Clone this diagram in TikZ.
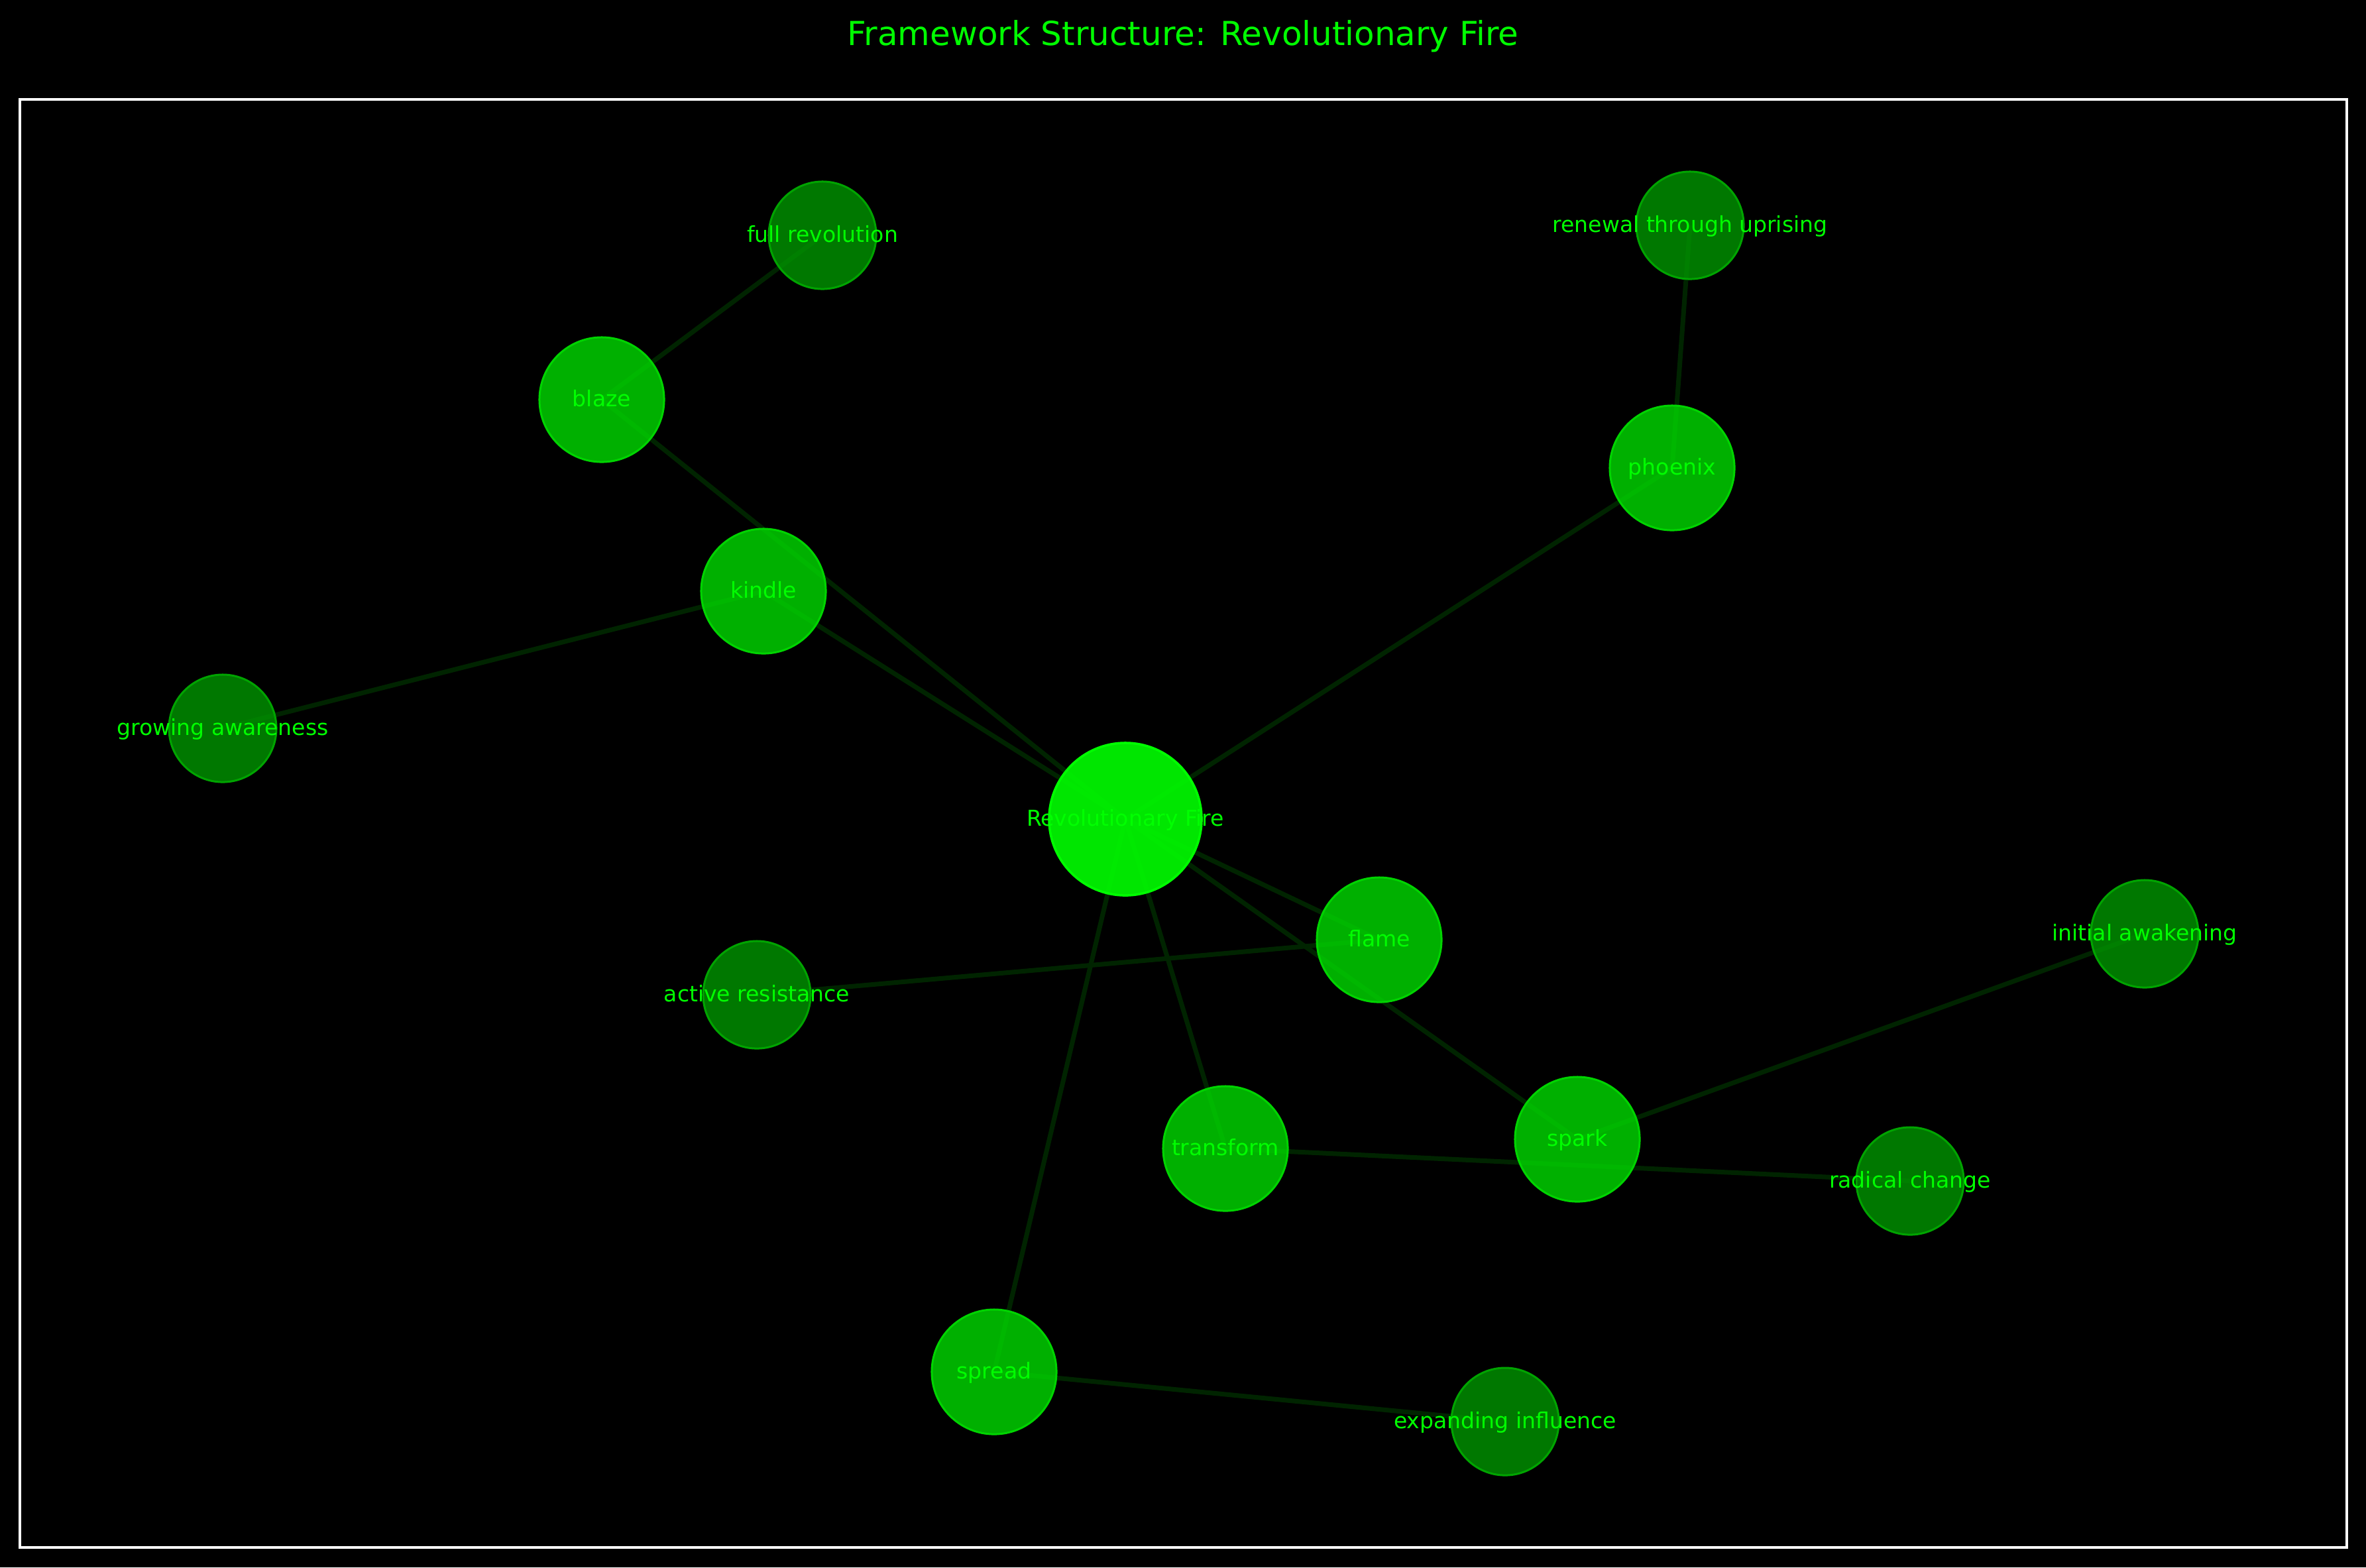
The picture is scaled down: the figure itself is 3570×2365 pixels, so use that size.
\documentclass[tikz,border=0pt]{standalone}
\usepackage{fontspec}
\setmainfont{DejaVu Sans}
\definecolor{bright}{HTML}{00FF00}
\definecolor{edgecol}{HTML}{002400}
\definecolor{midfill}{HTML}{00DC00}
\definecolor{midborder}{HTML}{00D400}
\definecolor{outfill}{HTML}{009600}
\definecolor{outborder}{HTML}{00A400}
\pgfdeclarelayer{bg}
\pgfdeclarelayer{edges}
\pgfsetlayers{bg,edges,main}
\tikzset{
  hub/.style={circle, minimum size=2.30cm, inner sep=0pt, fill=bright, fill opacity=0.9, draw=bright, line width=0.035cm},
  stage/.style={circle, minimum size=1.88cm, inner sep=0pt, fill=midfill, fill opacity=0.8, draw=midborder, line width=0.03cm},
  leaf/.style={circle, minimum size=1.62cm, inner sep=0pt, fill=outfill, fill opacity=0.8, draw=outborder, line width=0.03cm},
  lbl/.style={anchor=base, inner sep=0pt, text=bright, font=\fontsize{9.4pt}{11pt}\selectfont},
  link/.style={draw=edgecol, line width=0.07cm},
}
\begin{document}
\begin{tikzpicture}[x=0.01cm, y=-0.01cm]
\begin{pgfonlayer}{bg}
\fill[black] (0,0) rectangle (3570,2365);
\end{pgfonlayer}
\useasboundingbox (0,0) rectangle (3570,2365);
\draw[white, line width=0.04cm] (30,150) rectangle (3541,2335);
\node[anchor=base, inner sep=0pt, text=bright, font=\fontsize{14.2pt}{17pt}\selectfont] (title) at (1785,68) {Framework Structure: Revolutionary Fire};

% nodes
\node[hub] (rf) at (1698,1236) {};
\node[stage] (flame) at (2081,1418) {};
\node[stage] (blaze) at (908,603) {};
\node[stage] (kindle) at (1152,892) {};
\node[stage] (phoenix) at (2523,706) {};
\node[stage] (transform) at (1849,1733) {};
\node[stage] (spark) at (2380,1719) {};
\node[stage] (spread) at (1500,2070) {};
\node[leaf] (fullrev) at (1241,355) {};
\node[leaf] (renewal) at (2550,340) {};
\node[leaf] (growing) at (336,1099) {};
\node[leaf] (active) at (1142,1501) {};
\node[leaf] (initial) at (3236,1409) {};
\node[leaf] (radical) at (2882,1782) {};
\node[leaf] (expanding) at (2271,2145) {};

% edges
\begin{pgfonlayer}{edges}
\draw[link] (rf.center) -- (kindle.center);
\draw[link] (rf.center) -- (blaze.center);
\draw[link] (rf.center) -- (phoenix.center);
\draw[link] (rf.center) -- (flame.center);
\draw[link] (rf.center) -- (spark.center);
\draw[link] (rf.center) -- (transform.center);
\draw[link] (rf.center) -- (spread.center);
\draw[link] (blaze.center) -- (fullrev.center);
\draw[link] (kindle.center) -- (growing.center);
\draw[link] (phoenix.center) -- (renewal.center);
\draw[link] (flame.center) -- (active.center);
\draw[link] (spark.center) -- (initial.center);
\draw[link] (transform.center) -- (radical.center);
\draw[link] (spread.center) -- (expanding.center);
\end{pgfonlayer}

% labels
\node[lbl] (rfl) at ([yshift=-0.105cm]rf.center) {Revolutionary Fire};
\node[lbl] (flamel) at ([yshift=-0.105cm]flame.center) {flame};
\node[lbl] (blazel) at ([yshift=-0.105cm]blaze.center) {blaze};
\node[lbl] (kindlel) at ([yshift=-0.105cm]kindle.center) {kindle};
\node[lbl] (phoenixl) at ([yshift=-0.105cm]phoenix.center) {phoenix};
\node[lbl] (transforml) at ([yshift=-0.105cm]transform.center) {transform};
\node[lbl] (sparkl) at ([yshift=-0.105cm]spark.center) {spark};
\node[lbl] (spreadl) at ([yshift=-0.105cm]spread.center) {spread};
\node[lbl] (fullrevl) at ([yshift=-0.105cm]fullrev.center) {full revolution};
\node[lbl] (renewall) at ([yshift=-0.105cm]renewal.center) {renewal through uprising};
\node[lbl] (growingl) at ([yshift=-0.105cm]growing.center) {growing awareness};
\node[lbl] (activel) at ([yshift=-0.105cm]active.center) {active resistance};
\node[lbl] (initiall) at ([yshift=-0.105cm]initial.center) {initial awakening};
\node[lbl] (radicall) at ([yshift=-0.105cm]radical.center) {radical change};
\node[lbl] (expandingl) at ([yshift=-0.105cm]expanding.center) {expanding influence};
\end{tikzpicture}
\end{document}
